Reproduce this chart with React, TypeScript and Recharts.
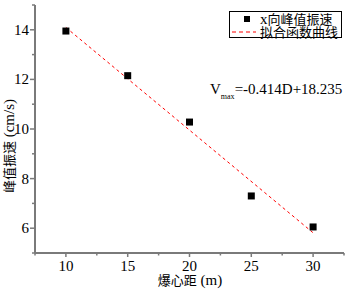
import * as React from 'react'
import { Scatter, ScatterChart, XAxis, YAxis } from 'recharts'

const distances = [10, 15, 20, 25, 30]
const peakSpeeds = [13.95, 12.15, 10.28, 7.3, 6.05]
const fitX = [10, 30]
const fitY = [14.095, 5.815]
const xTicks = [7.5, 10, 12.5, 15, 17.5, 20, 22.5, 25, 27.5, 30, 32.5]
const yTicks = [5, 6, 7, 8, 9, 10, 11, 12, 13, 14, 15]

const points = distances.map((d, i) => ({ x: d, y: peakSpeeds[i] }))
const fitLine = fitX.map((d, i) => ({ x: d, y: fitY[i] }))

const AXIS = '#7a7a7a'
const SERIF = "'Liberation Serif', 'Times New Roman', serif"
const CJK = "'Noto Sans CJK SC', sans-serif"

const YTick = ({ x, y, payload }: any) => {
  const v = payload.value
  const major = v % 2 === 0
  return (
    <g>
      <line x1={x} x2={x - (major ? 5 : 3)} y1={y} y2={y} stroke={AXIS} strokeWidth={1.5} />
      {major && (
        <text x={x - 6} y={y} dy={5} textAnchor="end" fontSize={15} fontFamily={SERIF} fill="#000">
          {v}
        </text>
      )}
    </g>
  )
}

const XTick = ({ x, y, payload }: any) => {
  const v = payload.value
  const major = v % 5 === 0
  return (
    <g>
      <line x1={x} x2={x} y1={y} y2={y + (major ? 4 : 2.5)} stroke={AXIS} strokeWidth={1.5} />
      {major && (
        <text x={x} y={y + 18} textAnchor="middle" fontSize={15} fontFamily={SERIF} fill="#000">
          {v}
        </text>
      )}
    </g>
  )
}

const Square = ({ cx, cy }: any) => <rect x={cx - 3.5} y={cy - 3.5} width={7} height={7} fill="#000" />

const rowStyle: React.CSSProperties = { display: 'flex', alignItems: 'center', height: 12 }

export default function App() {
  return (
    <div style={{ position: 'absolute', left: 0, top: 0, width: 345, height: 290, background: '#fff' }}>
      <ScatterChart width={345} height={290} margin={{ top: 5, right: 1, bottom: 0, left: 0 }}>
        <XAxis
          type="number"
          dataKey="x"
          domain={[7.5, 32.5]}
          ticks={xTicks}
          interval={0}
          height={37}
          tickSize={0}
          tickMargin={0}
          tickLine={false}
          tick={<XTick />}
          axisLine={{ stroke: AXIS, strokeWidth: 2 }}
          label={{
            content: () => (
              <text x={190} y={285} textAnchor="middle" fill="#000">
                <tspan fontFamily={CJK} fontSize={13}>爆心距</tspan>
                <tspan fontFamily={SERIF} fontSize={15}> (m)</tspan>
              </text>
            ),
          }}
        />
        <YAxis
          type="number"
          dataKey="y"
          domain={[5, 15]}
          ticks={yTicks}
          interval={0}
          width={35}
          tickSize={0}
          tickMargin={0}
          tickLine={false}
          tick={<YTick />}
          axisLine={{ stroke: AXIS, strokeWidth: 2 }}
          label={{
            content: () => (
              <text x={14} y={146} textAnchor="middle" fill="#000" transform="rotate(-90 14 146)">
                <tspan fontFamily={CJK} fontSize={13}>峰值振速</tspan>
                <tspan fontFamily={SERIF} fontSize={15}> (cm/s)</tspan>
              </text>
            ),
          }}
        />
        <Scatter
          name="拟合函数曲线"
          data={fitLine}
          line={{ stroke: '#f00', strokeWidth: 1, strokeDasharray: '3 3' }}
          shape={() => <g />}
          isAnimationActive={false}
        />
        <Scatter name="x向峰值振速" data={points} shape={<Square />} isAnimationActive={false} />
      </ScatterChart>
      <div
        style={{
          position: 'absolute',
          left: 229,
          top: 11,
          width: 113,
          height: 27,
          border: '1px solid #000',
          background: '#fff',
          boxSizing: 'border-box',
          paddingTop: 0.5,
          fontSize: 13,
          lineHeight: '12px',
          color: '#000',
        }}
      >
        <div style={rowStyle}>
          <svg width={30} height={12} style={{ flex: 'none' }}>
            <rect x={14} y={3} width={6} height={6} fill="#000" />
          </svg>
          <span style={{ fontFamily: SERIF, fontSize: 15 }}>x</span>
          <span style={{ fontFamily: CJK }}>向峰值振速</span>
        </div>
        <div style={{ ...rowStyle, marginTop: 1 }}>
          <svg width={30} height={12} style={{ flex: 'none' }}>
            <line x1={2} x2={26} y1={6} y2={6} stroke="#f00" strokeWidth={1} strokeDasharray="4 3" />
          </svg>
          <span style={{ fontFamily: CJK }}>拟合函数曲线</span>
        </div>
      </div>
      <div
        style={{
          position: 'absolute',
          left: 210,
          top: 80,
          fontFamily: SERIF,
          fontSize: 15,
          lineHeight: '18px',
          whiteSpace: 'nowrap',
          color: '#000',
        }}
      >
        V<span style={{ fontSize: 8, position: 'relative', top: 5 }}>max</span>=-0.414D+18.235
      </div>
    </div>
  )
}
